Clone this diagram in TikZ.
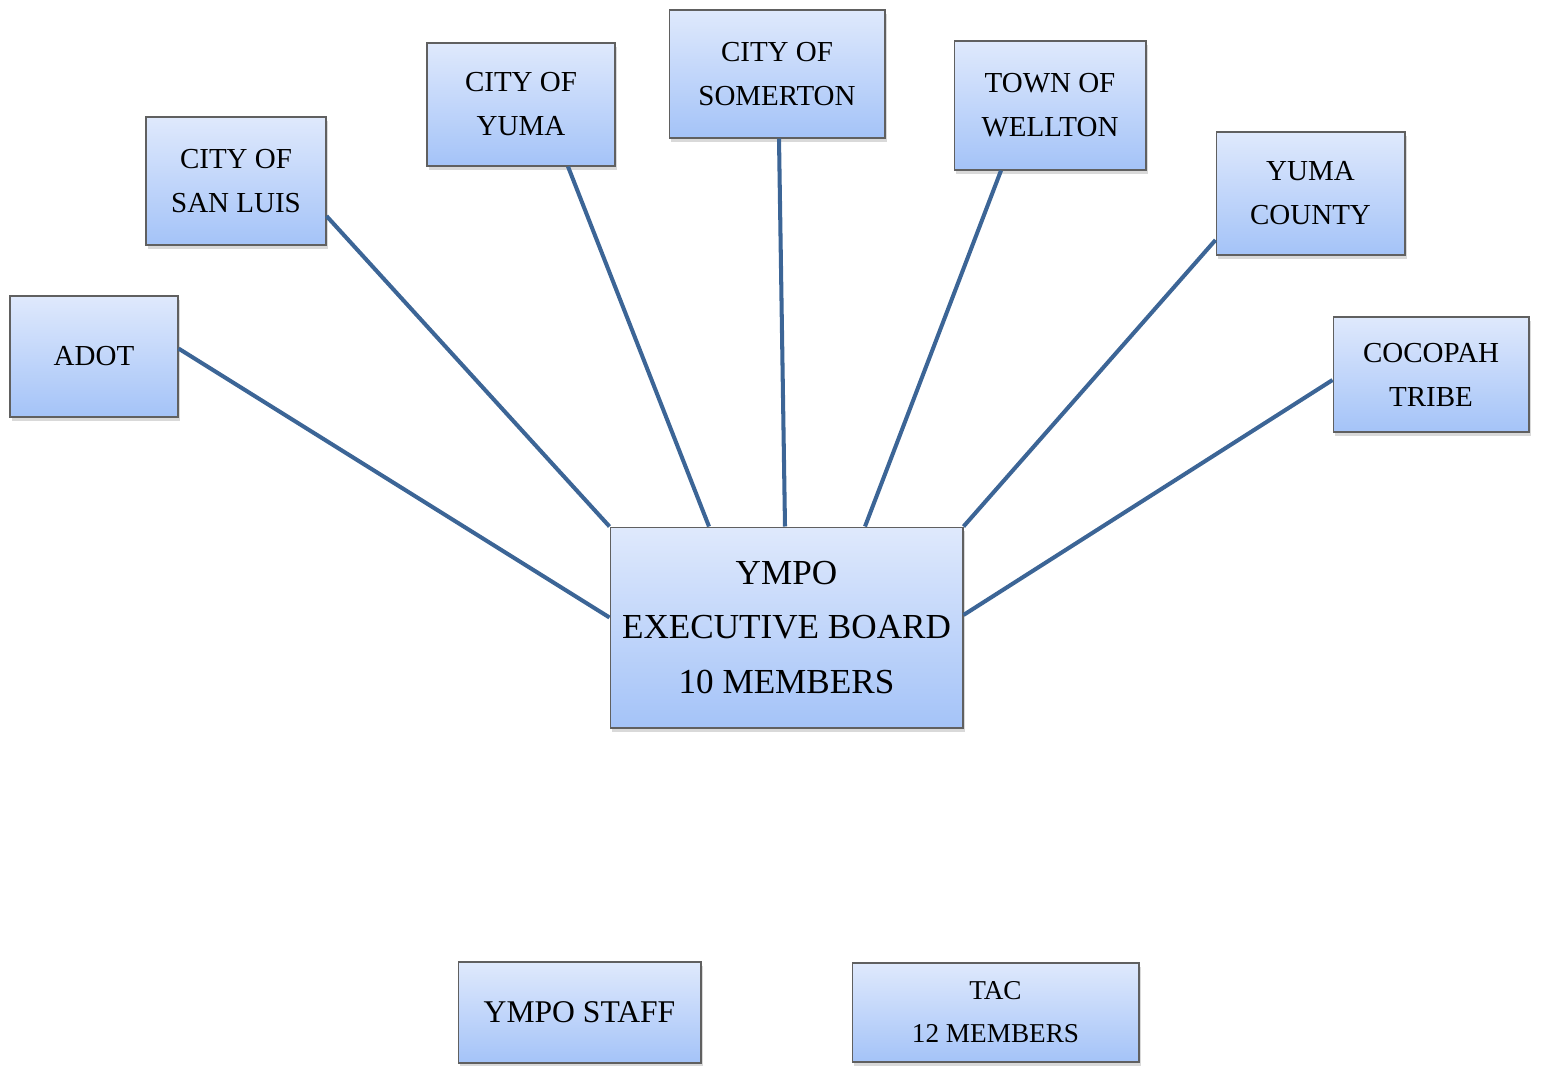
\documentclass[tikz,border=0pt]{standalone}
\usepackage{fontspec}
\setmainfont{Liberation Serif}
\usetikzlibrary{calc,shadows}
\definecolor{boxtop}{HTML}{DFE9FC}
\definecolor{boxbot}{HTML}{A4C3F8}
\definecolor{linkblue}{HTML}{3C6596}
\tikzset{unit/.style={draw=gray!75!black,line width=0.6pt,top color=boxtop,
  bottom color=boxbot,inner sep=0pt,align=center,
  font=\fontsize{16.5}{25}\selectfont,
  drop shadow={shadow xshift=1pt,shadow yshift=-2.2pt,opacity=0.3}},
  link/.style={draw=linkblue,line width=2.3pt}}

\begin{document}
\begin{tikzpicture}[x=0.02cm,y=-0.02cm]
\useasboundingbox (0,0) rectangle (1541,1065);
% member boxes
\node[unit,minimum width=3.36cm,minimum height=2.42cm] (adot) at (94,356.5) {ADOT};
\node[unit,minimum width=3.6cm,minimum height=2.56cm] (sanluis) at (236,181) {CITY OF\\SAN LUIS};
\node[unit,minimum width=3.76cm,minimum height=2.46cm] (yuma) at (521,104.5) {CITY OF\\YUMA};
\node[unit,minimum width=4.32cm,minimum height=2.56cm] (somerton) at (777,74) {CITY OF\\SOMERTON};
\node[unit,minimum width=3.84cm,minimum height=2.58cm] (wellton) at (1050,105.5) {TOWN OF\\WELLTON};
\node[unit,minimum width=3.78cm,minimum height=2.46cm] (county) at (1310.5,193.5) {YUMA\\COUNTY};
\node[unit,minimum width=3.92cm,minimum height=2.3cm] (cocopah) at (1431,374.5) {COCOPAH\\TRIBE};
% board
\node[unit,minimum width=7.06cm,minimum height=4.02cm,font=\fontsize{20}{31}\selectfont]
  (board) at (786.5,627.5) {YMPO\\EXECUTIVE BOARD\\10 MEMBERS};
% bottom boxes
\node[unit,minimum width=4.86cm,minimum height=2.02cm,font=\fontsize{18}{26}\selectfont] (staff) at (579.5,1012.5) {YMPO STAFF};
\node[unit,minimum width=5.74cm,minimum height=1.98cm,font=\fontsize{15.5}{24.5}\selectfont] (tac) at (995.5,1012.5) {TAC\\12 MEMBERS};
% links
\draw[link] ($(adot.east)+(0,-8)$) -- ($(board.west)+(0,-10)$);
\draw[link] ($(sanluis.east)+(0,35)$) -- (board.north west);
\draw[link] ($(yuma.south)+(47,0)$) -- ($(board.north)+(-77.5,0)$);
\draw[link] ($(somerton.south)+(2,0)$) -- ($(board.north)+(-1.5,0)$);
\draw[link] ($(wellton.south)+(-49,0)$) -- ($(board.north)+(78.5,0)$);
\draw[link] ($(county.west)+(0,46.5)$) -- (board.north east);
\draw[link] ($(cocopah.west)+(0,5.5)$) -- ($(board.east)+(0,-12.5)$);
\end{tikzpicture}
\end{document}
